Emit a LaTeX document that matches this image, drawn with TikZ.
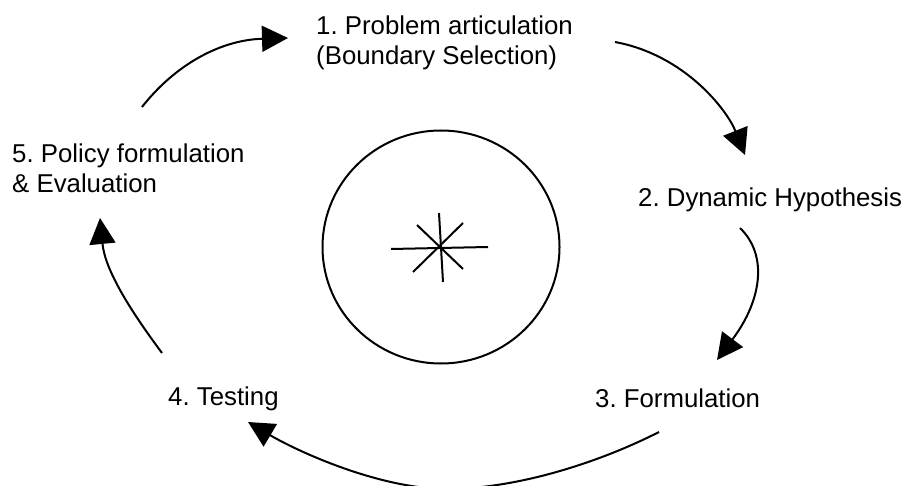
\documentclass[tikz,border=0pt]{standalone}
\usepackage{fontspec}
\setmainfont{Liberation Sans}
\usetikzlibrary{arrows.meta}
\frenchspacing
\begin{document}
\begin{tikzpicture}[x=1pt,y=-1pt,
  lbl/.style={anchor=base west,inner sep=0pt,font=\fontsize{25.8}{30}\selectfont},
  flow/.style={line width=2pt,-{Triangle[length=26pt,width=26pt]}},
  stroke/.style={line width=2pt}]
\useasboundingbox (0,0) rectangle (904,486);
% labels
\node[lbl] (t1a) at (316,35) {1. Problem articulation};
\node[lbl] (t1b) at (316,65) {(Boundary Selection)};
\node[lbl] (t2) at (638,207) {2. Dynamic Hypothesis};
\node[lbl] (t3) at (595,407) {3. Formulation};
\node[lbl] (t4) at (168,405) {4. Testing};
\node[lbl] (t5a) at (12,163) {5. Policy formulation};
\node[lbl] (t5b) at (12,193) {\& Evaluation};
% centre
\coordinate (c) at (441,247);
\draw[stroke] (c) ellipse [x radius=118.5, y radius=116.5];
\coordinate (h1) at (391,249); \coordinate (h2) at (488,247);
\coordinate (v1) at (439,213); \coordinate (v2) at (443,282);
\coordinate (d1) at (417,225); \coordinate (d2) at (463,269);
\coordinate (e1) at (463,223); \coordinate (e2) at (413,272);
\draw[stroke] (h1) -- (h2);
\draw[stroke] (v1) -- (v2);
\draw[stroke] (d1) -- (d2);
\draw[stroke] (e1) -- (e2);
% cycle arrows
\coordinate (a1s) at (142,107); \coordinate (a1e) at (288,38);
\coordinate (a2s) at (615,42);  \coordinate (a2e) at (745,155);
\coordinate (a3s) at (740,228); \coordinate (a3e) at (717,360);
\coordinate (a4s) at (659,432); \coordinate (a4m) at (450,489); \coordinate (a4e) at (248,422);
\coordinate (a5s) at (162,353); \coordinate (a5e) at (100,218);
\draw[flow] (a1s) .. controls (175,65) and (220,40) .. (a1e);
\draw[flow] (a2s) .. controls (685,55) and (727,110) .. (a2e);
\draw[flow] (a3s) .. controls (768,255) and (762,300) .. (a3e);
\draw[flow] (a4s) .. controls (600,462) and (520,488) .. (a4m)
  .. controls (380,490) and (295,450) .. (a4e);
\draw[flow] (a5s) .. controls (130,310) and (105,270) .. (a5e);
\end{tikzpicture}
\end{document}
